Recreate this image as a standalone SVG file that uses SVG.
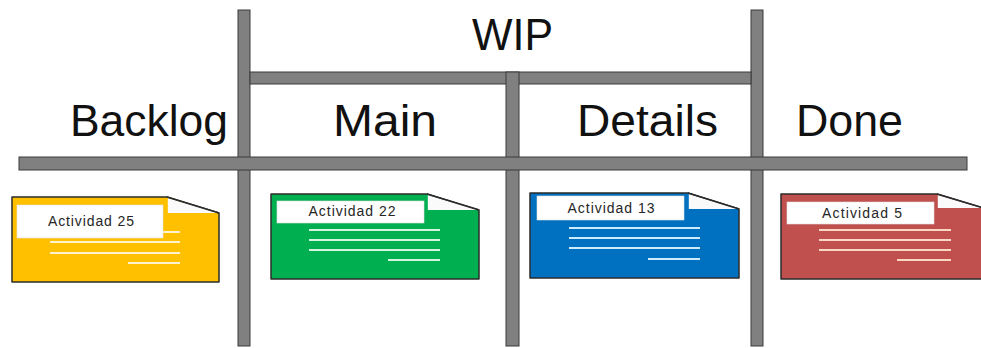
<svg xmlns="http://www.w3.org/2000/svg" width="981" height="348" viewBox="0 0 981 348">
  <style>
    .bar { fill: #808080; stroke: #3a3a3a; stroke-width: 1; }
    .head { font-family: "Liberation Sans", Arial, sans-serif; font-size: 44px; fill: #111; }
    .card { stroke: #2b2b2b; stroke-width: 1.5; stroke-linejoin: round; }
    .fold { fill: #fafafa; }
    .crease { fill: none; stroke: #2b2b2b; stroke-width: 1.5; }
    .label { fill: #ffffff; stroke: #e0e0e0; stroke-width: 0.6; }
    .ltxt { font-family: "Liberation Sans", Arial, sans-serif; font-size: 14px; fill: #262626; text-anchor: middle; }
    .ln { stroke-width: 2.2; stroke-linecap: butt; }
    .yellow { fill: #FFC000; }
    .green { fill: #00B050; }
    .blue { fill: #0070C0; }
    .red { fill: #C0504D; }
    .ly { stroke: #FFF3CF; }
    .lg { stroke: #D4F5DE; }
    .lb { stroke: #CDEBFF; }
    .lr { stroke: #FAD6C4; }
  </style>

  <rect width="981" height="348" fill="#ffffff"/>

  <!-- board frame: column dividers and header rails -->
  <g id="board">
    <rect class="bar" x="238" y="10" width="12" height="336"/>
    <rect class="bar" x="751" y="10" width="12" height="336"/>
    <rect class="bar" x="250" y="72" width="501" height="12"/>
    <rect class="bar" x="506" y="72" width="13" height="274"/>
    <rect class="bar" x="19" y="157" width="948" height="13"/>
  </g>

  <!-- column headings -->
  <g id="headings">
    <text class="head" x="472" y="50" textLength="81" lengthAdjust="spacingAndGlyphs">WIP</text>
    <text class="head" x="70" y="136" textLength="158" lengthAdjust="spacingAndGlyphs">Backlog</text>
    <text class="head" x="333" y="136" textLength="104" lengthAdjust="spacingAndGlyphs">Main</text>
    <text class="head" x="577" y="136" textLength="141" lengthAdjust="spacingAndGlyphs">Details</text>
    <text class="head" x="796" y="136" textLength="107" lengthAdjust="spacingAndGlyphs">Done</text>
  </g>

  <!-- Backlog card -->
  <g id="card-25">
    <path class="card yellow" d="M12,197 H167 L219,213 V282 H12 Z"/>
    <path class="fold" d="M167.8,198 L218,213 H167.8 Z"/>
    <path class="crease" d="M167,197 L219,213"/>
    <g class="ln ly">
      <line x1="50" y1="232" x2="180" y2="232"/>
      <line x1="50" y1="242" x2="180" y2="242"/>
      <line x1="50" y1="253" x2="180" y2="253"/>
      <line x1="128" y1="263" x2="180" y2="263"/>
    </g>
    <rect class="label" x="17" y="205" width="146" height="33"/>
    <text class="ltxt" x="91" y="226" textLength="86">Actividad 25</text>
  </g>

  <!-- Main card -->
  <g id="card-22">
    <path class="card green" d="M271,194 H427 L479,210 V279 H271 Z"/>
    <path class="fold" d="M427.8,195 L478,210 H427.8 Z"/>
    <path class="crease" d="M427,194 L479,210"/>
    <g class="ln lg">
      <line x1="309" y1="230" x2="440" y2="230"/>
      <line x1="309" y1="240" x2="440" y2="240"/>
      <line x1="309" y1="250" x2="440" y2="250"/>
      <line x1="388" y1="260" x2="440" y2="260"/>
    </g>
    <rect class="label" x="277" y="201" width="147" height="22"/>
    <text class="ltxt" x="352" y="216" textLength="87">Actividad 22</text>
  </g>

  <!-- Details card -->
  <g id="card-13">
    <path class="card blue" d="M530,193 H688 L739,209 V278 H530 Z"/>
    <path class="fold" d="M688.8,194 L738,209 H688.8 Z"/>
    <path class="crease" d="M688,193 L739,209"/>
    <g class="ln lb">
      <line x1="569" y1="228" x2="700" y2="228"/>
      <line x1="569" y1="238" x2="700" y2="238"/>
      <line x1="569" y1="248" x2="700" y2="248"/>
      <line x1="648" y1="259" x2="700" y2="259"/>
    </g>
    <rect class="label" x="537" y="196" width="147" height="24"/>
    <text class="ltxt" x="611" y="213" textLength="87">Actividad 13</text>
  </g>

  <!-- Done card -->
  <g id="card-5">
    <path class="card red" d="M781,194 H937 L990,210 V279 H781 Z"/>
    <path class="fold" d="M937.8,195 L981,208 H937.8 Z"/>
    <path class="crease" d="M937,194 L990,210"/>
    <g class="ln lr">
      <line x1="819" y1="230" x2="951" y2="230"/>
      <line x1="819" y1="240" x2="951" y2="240"/>
      <line x1="819" y1="250" x2="951" y2="250"/>
      <line x1="897" y1="260" x2="951" y2="260"/>
    </g>
    <rect class="label" x="787" y="202" width="147" height="22"/>
    <text class="ltxt" x="862" y="218" textLength="80">Actividad 5</text>
  </g>
</svg>
